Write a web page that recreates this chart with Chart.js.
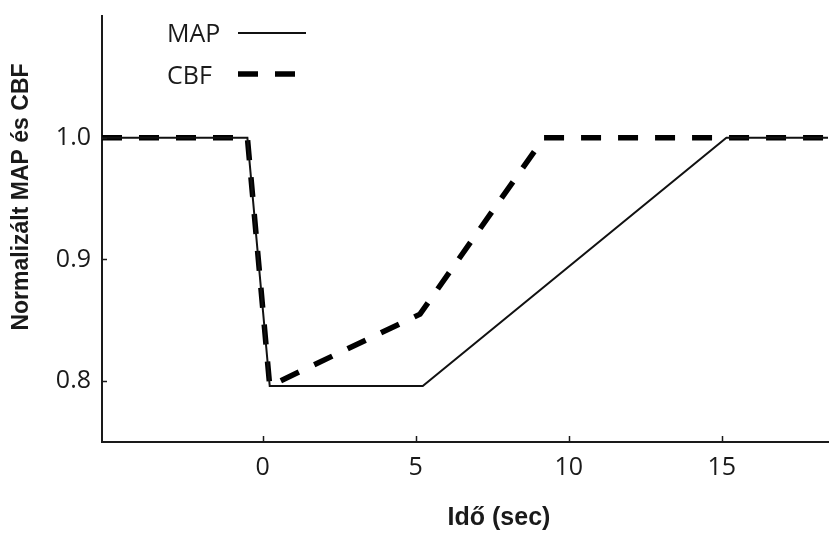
<!DOCTYPE html>
<html>
<head>
<meta charset="utf-8">
<title>MAP és CBF</title>
<script src="https://cdn.jsdelivr.net/npm/chart.js@4/dist/chart.umd.min.js"></script>
<style>
    html, body { margin: 0; padding: 0; background: #fff; }
    #wrap { width: 830px; height: 534px; }
</style>
</head>
<body>
<div id="wrap"><canvas id="chart" width="830" height="534"></canvas></div>
<script>
// time (sec) and normalised values for each trace
const mapTime = [-5.25, -0.5, 0.23, 5.23, 15.15, 18.5];
const mapValues = [1.0, 1.0, 0.796, 0.796, 1.0, 1.0];
const cbfTime = [-5.25, -0.5, 0.23, 5.14, 9.19, 18.5];
const cbfValues = [1.0, 1.0, 0.796, 0.855, 1.0, 1.0];

const xTicks = [0, 5, 10, 15];
const yTicks = [0.8, 0.9, 1.0];
const seriesNames = ['MAP', 'CBF'];

const tickFont = { family: 'Open Sans', size: 25 };
const titleFont = 'bold 25px "Liberation Sans", Arial, sans-serif';
const yTitleFont = 'bold 23px "Liberation Sans", Arial, sans-serif';
const ink = '#1a1a1a';

function toPoints(xs, ys) {
    return xs.map(function (x, i) { return { x: x, y: ys[i] }; });
}

// ticks pointing into the plot, axis titles and the legend
const decorations = {
    id: 'decorations',
    afterDraw: function (chart) {
        const ctx = chart.ctx;
        const area = chart.chartArea;
        const xs = chart.scales.x;
        const ys = chart.scales.y;
        ctx.save();
        ctx.strokeStyle = ink;
        ctx.lineWidth = 1.5;
        xTicks.forEach(function (v) {
            const px = Math.round(xs.getPixelForValue(v)) + 0.5;
            ctx.beginPath();
            ctx.moveTo(px, area.bottom);
            ctx.lineTo(px, area.bottom - 6);
            ctx.stroke();
        });
        yTicks.forEach(function (v) {
            const py = Math.round(ys.getPixelForValue(v)) + 0.5;
            ctx.beginPath();
            ctx.moveTo(area.left, py);
            ctx.lineTo(area.left + 5, py);
            ctx.stroke();
        });

        ctx.fillStyle = ink;
        ctx.textAlign = 'center';
        ctx.textBaseline = 'middle';
        ctx.font = titleFont;
        ctx.fillText('Idő (sec)', 499, 518);

        ctx.save();
        ctx.translate(22, 197);
        ctx.rotate(-Math.PI / 2);
        ctx.font = yTitleFont;
        ctx.fillText('Normalizált MAP és CBF', 0, 0);
        ctx.restore();

        // legend: label first, line sample after it
        ctx.textAlign = 'left';
        ctx.font = '25px "Open Sans"';
        ctx.fillText(seriesNames[0], 167, 35);
        ctx.fillText(seriesNames[1], 167, 77);
        const ds = chart.data.datasets;
        ctx.lineCap = 'butt';
        ctx.strokeStyle = ds[0].borderColor;
        ctx.lineWidth = ds[0].borderWidth;
        ctx.beginPath();
        ctx.moveTo(238, 33);
        ctx.lineTo(306, 33);
        ctx.stroke();
        ctx.strokeStyle = ds[1].borderColor;
        ctx.lineWidth = ds[1].borderWidth;
        ctx.setLineDash(ds[1].borderDash);
        ctx.beginPath();
        ctx.moveTo(238, 74);
        ctx.lineTo(298, 74);
        ctx.stroke();
        ctx.restore();
    }
};

new Chart(document.getElementById('chart'), {
    type: 'line',
    data: {
        datasets: [
            {
                label: seriesNames[0],
                data: toPoints(mapTime, mapValues),
                borderColor: '#111',
                borderWidth: 2,
                pointRadius: 0,
                tension: 0
            },
            {
                label: seriesNames[1],
                data: toPoints(cbfTime, cbfValues),
                borderColor: '#000',
                borderWidth: 5.5,
                borderDash: [20, 17],
                borderCapStyle: 'butt',
                pointRadius: 0,
                tension: 0
            }
        ]
    },
    options: {
        responsive: false,
        animation: false,
        layout: { padding: { top: 16, right: 2, left: 0, bottom: 0 } },
        plugins: {
            legend: { display: false },
            tooltip: { enabled: false }
        },
        scales: {
            x: {
                type: 'linear',
                min: -5.25,
                max: 18.47,
                grid: { display: false, drawTicks: false },
                border: { color: ink, width: 2 },
                afterBuildTicks: function (scale) {
                    scale.ticks = xTicks.map(function (v) { return { value: v }; });
                },
                afterFit: function (scale) {
                    scale.height = 92;
                    scale.paddingLeft = 0;
                    scale.paddingRight = 0;
                },
                ticks: {
                    font: tickFont,
                    color: ink,
                    padding: 11,
                    maxRotation: 0,
                    callback: function (v) { return String(v); }
                }
            },
            y: {
                type: 'linear',
                min: 0.75,
                max: 1.1,
                grid: { display: false, drawTicks: false },
                border: { color: ink, width: 2 },
                afterBuildTicks: function (scale) {
                    scale.ticks = yTicks.map(function (v) { return { value: v }; });
                },
                afterFit: function (scale) {
                    scale.width = 102;
                    scale.paddingTop = 0;
                    scale.paddingBottom = 0;
                },
                ticks: {
                    font: tickFont,
                    color: ink,
                    padding: 11,
                    callback: function (v) { return v.toFixed(1); }
                }
            }
        }
    },
    plugins: [decorations]
});
</script>
</body>
</html>
